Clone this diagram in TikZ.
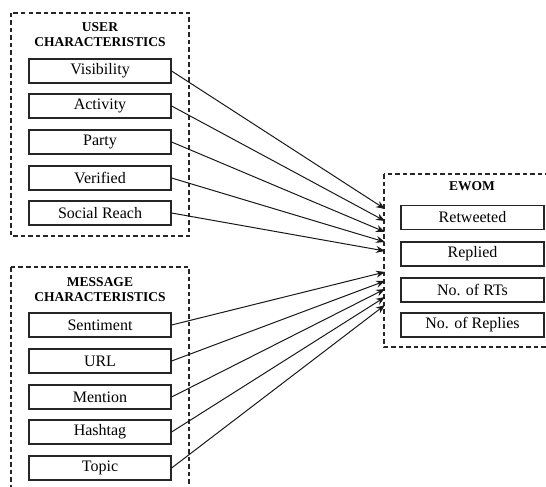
\documentclass[tikz,border=0pt]{standalone}
\usepackage{fontspec}
\setmainfont{Liberation Serif}
\usetikzlibrary{arrows.meta}
\begin{document}
\begin{tikzpicture}[x=1pt,y=1pt,
  item/.style={draw=black!85,line width=1.2pt,minimum width=142pt,minimum height=24pt,inner sep=0pt,font=\fontsize{16}{18}\selectfont},
  grp/.style={draw=black!85,dashed,dash pattern=on 4.5pt off 3pt,line width=1.1pt},
  ttl/.style={font=\fontsize{13.5}{15}\selectfont\bfseries,align=center,inner sep=0pt},
  arr/.style={line width=1pt,black!90,-{Stealth[length=9pt,width=7pt]}}]
\useasboundingbox (0,0) rectangle (546,-487);
\clip (0,0) rectangle (546,-487);
% groups
\draw[grp] (11,-13) rectangle (189,-236);
\draw[grp] (11,-267) rectangle (189,-500);
\draw[grp] (384,-174) rectangle (560,-347);
\node[ttl] (t1) at (100,-35) {USER\\CHARACTERISTICS};
\node[ttl] (t2) at (100,-290) {MESSAGE\\CHARACTERISTICS};
\node[ttl] (t3) at (472,-186) {EWOM};
% user items
\node[item] (vis) at (100,-71) {Visibility};
\node[item] (act) at (100,-106) {Activity};
\node[item] (par) at (100,-142) {Party};
\node[item] (ver) at (100,-178) {Verified};
\node[item] (soc) at (100,-213) {Social Reach};
% message items
\node[item] (sen) at (100,-325) {Sentiment};
\node[item] (url) at (100,-361) {URL};
\node[item] (men) at (100,-397) {Mention};
\node[item] (has) at (100,-432) {Hashtag};
\node[item] (top) at (100,-468) {Topic};
% ewom items
\node[item,minimum width=143pt] (ret) at (472.5,-217.5) {Retweeted};
\node[item,minimum width=143pt] (rep) at (472.5,-254) {Replied};
\node[item,minimum width=143pt] (nrt) at (472.5,-290) {No. of RTs};
\node[item,minimum width=143pt] (nre) at (472.5,-325) {No. of Replies};
% targets
\coordinate (e1) at (385,-209);
\coordinate (e2) at (385,-221);
\coordinate (e3) at (385,-232);
\coordinate (e4) at (385,-242);
\coordinate (e5) at (385,-251);
\coordinate (e6) at (385,-272);
\coordinate (e7) at (385,-281);
\coordinate (e8) at (385,-289);
\coordinate (e9) at (385,-297);
\coordinate (e10) at (385,-305);
\draw[arr] (vis.east) -- (e1);
\draw[arr] (act.east) -- (e2);
\draw[arr] (par.east) -- (e3);
\draw[arr] (ver.east) -- (e4);
\draw[arr] (soc.east) -- (e5);
\draw[arr] (sen.east) -- (e6);
\draw[arr] (url.east) -- (e7);
\draw[arr] (men.east) -- (e8);
\draw[arr] (has.east) -- (e9);
\draw[arr] (top.east) -- (e10);
\end{tikzpicture}
\end{document}
